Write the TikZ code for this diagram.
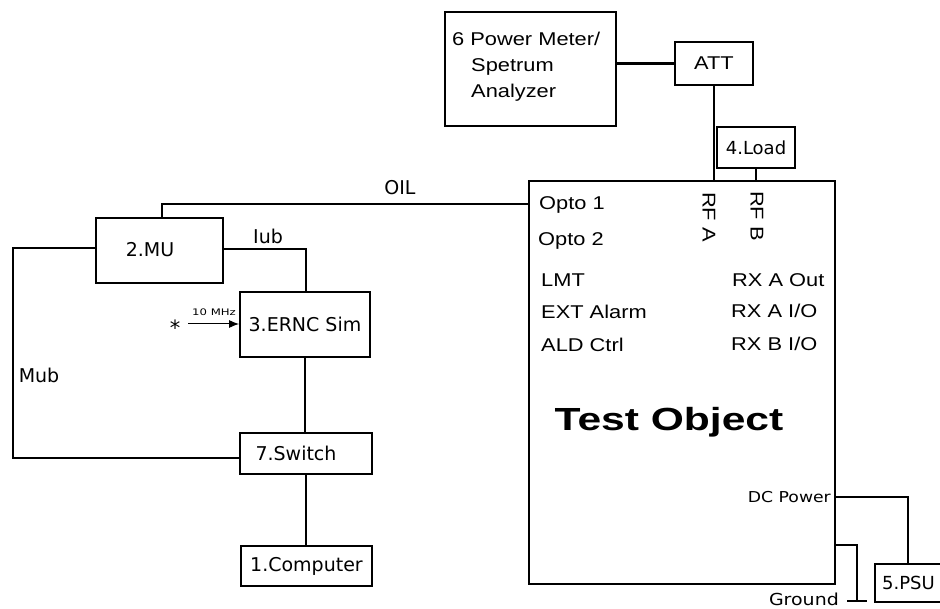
\documentclass[tikz,border=0pt]{standalone}
\usepackage{fontspec}
\setmainfont{DejaVu Sans}
\newfontfamily\vd{DejaVu Sans}
\newfontfamily\vdw[FakeStretch=1.15]{DejaVu Sans}
\newfontfamily\vdx[FakeStretch=1.3]{DejaVu Sans}
\newfontfamily\arw[FakeStretch=1.18]{Liberation Sans}
\newfontfamily\arb[FakeStretch=1.33]{Liberation Sans}
\usetikzlibrary{arrows.meta}
\begin{document}
\begin{tikzpicture}[x=1pt,y=-1pt,
  box/.style={draw, line width=1.8pt, inner sep=0pt},
  conn/.style={line width=1.3pt},
  thinconn/.style={line width=1.1pt},
  bl/.style={font=\vd\fontsize{19}{21}\selectfont, inner sep=0pt},
  al/.style={font=\arw\fontsize{18.5}{20}\selectfont, inner sep=0pt, anchor=west},
  sl/.style={font=\vdw\fontsize{15}{17}\selectfont, inner sep=0pt}]
\useasboundingbox (0,0) rectangle (940,609);
\fill[white] (0,0) rectangle (940,609);

% boxes
\node[box, minimum width=171pt, minimum height=114pt] (pm) at (530.5,69) {};
\node[al] (pm1) at (452,39) {6 Power Meter/};
\node[al] (pm2) at (471,67) {Spetrum};
\node[al] (pm3) at (471,93) {Analyzer};

\node[box, minimum width=78pt, minimum height=43pt, font=\arw\fontsize{18.5}{20}\selectfont] (att) at (714,63.5) {ATT};
\node[box, minimum width=78pt, minimum height=41pt, font=\vd\fontsize{18}{20}\selectfont] (load) at (756,147.5) {4.Load};
\node[box, minimum width=306pt, minimum height=403pt] (to) at (682,382.5) {};

\node[box, minimum width=127pt, minimum height=65pt] (mu) at (159.5,250.5) {};
\node[bl] (mul) at (150,250) {2.MU};
\node[box, minimum width=130pt, minimum height=65pt, bl] (ernc) at (305,324.5) {3.ERNC Sim};
\node[box, minimum width=132pt, minimum height=41pt] (sw) at (306,453.5) {};
\node[bl] (swl) at (296,453) {7.Switch};
\node[box, minimum width=131pt, minimum height=40pt, bl] (comp) at (306.5,566) {1.Computer};
\node[box, minimum width=85pt, minimum height=38pt] (psu) at (917.5,583) {};
\node[bl, font=\vd\fontsize{18}{20}\selectfont, anchor=west] (psul) at (882,583) {5.PSU};

% test object texts
\node[al] (o1) at (539,205) {Opto 1};
\node[al] (o2) at (538,241) {Opto 2};
\node[al] (lmt) at (541,280) {LMT};
\node[al] (ext) at (541,312) {EXT Alarm};
\node[al] (ald) at (541,345) {ALD Ctrl};
\node[al] (rxa) at (732,280) {RX A Out};
\node[al] (rxaio) at (731,311) {RX A I/O};
\node[al] (rxbio) at (731,344) {RX B I/O};
\node[al, anchor=center, rotate=-90] (rfa) at (709,217) {RF A};
\node[al, anchor=center, rotate=-90] (rfb) at (757,216) {RF B};
\node[font=\arb\bfseries\fontsize{32}{36}\selectfont, inner sep=0pt] (tol) at (669,422) {Test Object};
\node[sl, anchor=east] (dcl) at (831,497) {DC Power};
\node[sl, font=\vdw\fontsize{16.5}{18}\selectfont, anchor=east] (gndl) at (839,599) {Ground};

% link labels
\node[bl] (oil) at (400,188) {OIL};
\node[bl] (iub) at (268,236) {Iub};
\node[bl] (mub) at (39,375) {Mub};
\node[font=\vdx\fontsize{9}{10}\selectfont, inner sep=0pt] (mhz) at (214,312) {10 MHz};
\node[font=\vd\fontsize{21}{21}\selectfont, inner sep=0pt] (star) at (175,328) {*};

% connectors
\draw[line width=2.8pt] (att.west -| pm.east) -- (att.west);
\draw[conn] (att.south) -- (att.south |- to.north);
\draw[conn] (load.south) -- (load.south |- to.north);

\coordinate (oilC) at (162,204);
\draw[thinconn] (to.west |- oilC) -- (oilC) -- (oilC |- mu.north);

\coordinate (iubC) at (306,249);
\draw[conn] (mu.east |- iubC) -- (iubC) -- (iubC |- ernc.north);

\coordinate (mubT) at (13,248);
\coordinate (mubB) at (13,458);
\draw[conn] (mu.west |- mubT) -- (mubT) -- (mubB) -- (sw.west |- mubB);

\draw[conn] (ernc.south) -- (ernc.south |- sw.north);
\draw[conn] (sw.south) -- (sw.south |- comp.north);

\coordinate (clk) at (188,324);
\draw[line width=1pt, -{Latex[length=10pt,width=8pt]}] (clk) -- (clk -| ernc.west);

\coordinate (dcC) at (908,497);
\draw[conn] (to.east |- dcC) -- (dcC) -- (dcC |- psu.north);

\coordinate (gC) at (857,545);
\coordinate (gB) at (857,601);
\coordinate (gL) at (847,601);
\coordinate (gR) at (867,601);
\draw[conn] (to.east |- gC) -- (gC) -- (gB);
\draw[conn] (gL) -- (gR);
\end{tikzpicture}
\end{document}
